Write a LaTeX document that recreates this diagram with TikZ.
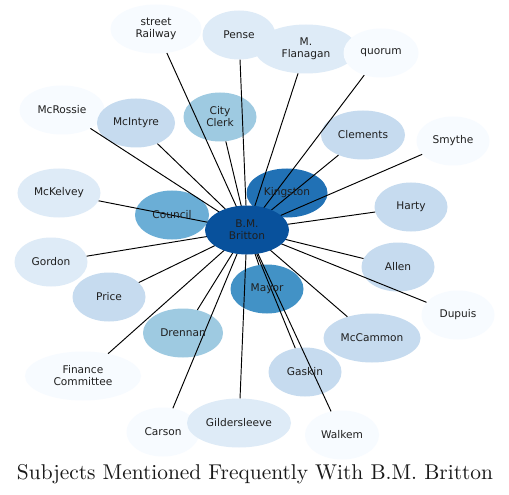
\documentclass[tikz,border=0pt]{standalone}
\usepackage{fontspec}
\newfontfamily\lab{DejaVu Sans}
\usetikzlibrary{shapes.geometric}
\definecolor{b0}{HTML}{F7FBFF}
\definecolor{b1}{HTML}{DEEBF7}
\definecolor{b2}{HTML}{C6DBEF}
\definecolor{b3}{HTML}{9ECAE1}
\definecolor{b4}{HTML}{6BAED6}
\definecolor{b5}{HTML}{4292C6}
\definecolor{b6}{HTML}{2171B5}
\definecolor{b7}{HTML}{08519C}
\tikzset{
  bub/.style={ellipse, inner sep=0pt, minimum height=49bp, draw=none},
  lbl/.style={font={\lab\fontsize{10.6bp}{12bp}\selectfont}, align=center, text=black!88, inner sep=0pt},
  link/.style={line width=0.95bp, black}
}
\begin{document}
\begin{tikzpicture}[x=1bp,y=-1bp]
\useasboundingbox (0,0) rectangle (509,495);
\fill[white] (0,0) rectangle (509,495);
% nodes
\node[bub, fill=b0, minimum width=91bp]  (rail)    at (156,29)  {};
\node[bub, fill=b1, minimum width=73bp]  (pense)   at (239,35)  {};
\node[bub, fill=b1, minimum width=102bp] (flan)    at (306,49)  {};
\node[bub, fill=b0, minimum width=75bp]  (quorum)  at (381,53)  {};
\node[bub, fill=b0, minimum width=85bp]  (mcross)  at (62,110)  {};
\node[bub, fill=b2, minimum width=78bp]  (mcint)   at (136,123) {};
\node[bub, fill=b3, minimum width=73bp]  (clerk)   at (220,117) {};
\node[bub, fill=b2, minimum width=84bp]  (clem)    at (363,135) {};
\node[bub, fill=b0, minimum width=73bp]  (smythe)  at (453,141) {};
\node[bub, fill=b1, minimum width=83bp]  (mckel)   at (59,193)  {};
\node[bub, fill=b4, minimum width=74bp]  (council) at (172,215) {};
\node[bub, fill=b6, minimum width=81bp]  (king)    at (287,193) {};
\node[bub, fill=b2, minimum width=73bp]  (harty)   at (411,207) {};
\node[bub, fill=b1, minimum width=73bp]  (gordon)  at (51,262)  {};
\node[bub, fill=b2, minimum width=73bp]  (allen)   at (398,267) {};
\node[bub, fill=b5, minimum width=73bp]  (mayor)   at (267,289) {};
\node[bub, fill=b2, minimum width=73bp]  (price)   at (109,297) {};
\node[bub, fill=b0, minimum width=73bp]  (dupuis)  at (458,315) {};
\node[bub, fill=b3, minimum width=80bp]  (drennan) at (183,333) {};
\node[bub, fill=b2, minimum width=97bp]  (mccam)   at (372,338) {};
\node[bub, fill=b2, minimum width=73bp]  (gaskin)  at (305,372) {};
\node[bub, fill=b0, minimum width=116bp] (finance) at (83,376)  {};
\node[bub, fill=b0, minimum width=73bp]  (carson)  at (163,432) {};
\node[bub, fill=b1, minimum width=104bp] (gilder)  at (239,423) {};
\node[bub, fill=b0, minimum width=74bp]  (walkem)  at (342,435) {};
\coordinate (c) at (247,230);
% edges
\foreach \t in {rail,pense,flan,quorum,mcross,mcint,clerk,clem,smythe,mckel,council,king,harty,gordon,allen,mayor,price,dupuis,drennan,mccam,gaskin,finance,carson,gilder,walkem}
  \draw[link] (c) -- (\t);
% centre node on top
\node[bub, fill=b7, minimum width=84bp] (brit) at (c) {};
% labels
\node[lbl] (lrail)    at (rail)    {street\\Railway};
\node[lbl] (lpense)   at (pense)   {Pense};
\node[lbl] (lflan)    at (flan)    {M.\\Flanagan};
\node[lbl] (lquorum)  at (quorum)  {quorum};
\node[lbl] (lmcross)  at (mcross)  {McRossie};
\node[lbl] (lmcint)   at (mcint)   {McIntyre};
\node[lbl] (lclerk)   at (clerk)   {City\\Clerk};
\node[lbl] (lclem)    at (clem)    {Clements};
\node[lbl] (lsmythe)  at (smythe)  {Smythe};
\node[lbl] (lmckel)   at (mckel)   {McKelvey};
\node[lbl] (lcouncil) at (council) {Council};
\node[lbl] (lking)    at (king)    {Kingston};
\node[lbl] (lharty)   at (harty)   {Harty};
\node[lbl] (lbrit)    at (brit)    {B.M.\\Britton};
\node[lbl] (lgordon)  at (gordon)  {Gordon};
\node[lbl] (lallen)   at (allen)   {Allen};
\node[lbl] (lmayor)   at (mayor)   {Mayor};
\node[lbl] (lprice)   at (price)   {Price};
\node[lbl] (ldupuis)  at (dupuis)  {Dupuis};
\node[lbl] (ldrennan) at (drennan) {Drennan};
\node[lbl] (lmccam)   at (mccam)   {McCammon};
\node[lbl] (lgaskin)  at (gaskin)  {Gaskin};
\node[lbl] (lfinance) at (finance) {Finance\\Committee};
\node[lbl] (lcarson)  at (carson)  {Carson};
\node[lbl] (lgilder)  at (gilder)  {Gildersleeve};
\node[lbl] (lwalkem)  at (walkem)  {Walkem};
% title
\node[anchor=base, inner sep=0pt, text=black!90] (title) at (255,479.5)
  {\resizebox{476bp}{!}{\fontsize{10}{12}\selectfont Subjects Mentioned Frequently With B.M. Britton}};
\end{tikzpicture}
\end{document}
